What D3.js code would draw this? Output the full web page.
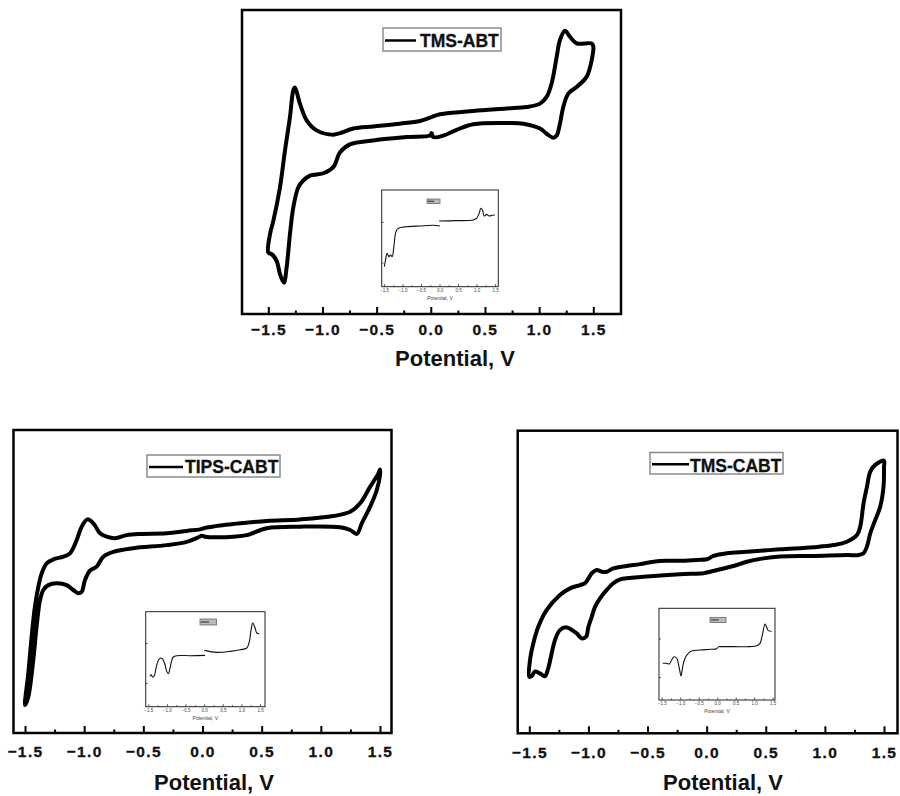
<!DOCTYPE html>
<html>
<head>
<meta charset="utf-8">
<script src="https://cdn.jsdelivr.net/npm/d3@7"></script>
<style>
  body { margin: 0; background: #fff; }
  svg { display: block; }
  text { font-family: "Liberation Sans", Arial, sans-serif; }
</style>
</head>
<body>
<div id="chart"></div>
<script>
//tick values shared by all panels
const potentialTicks = [-1.5, -1.0, -0.5, 0.0, 0.5, 1.0, 1.5];
const potentialMinor = [-1.25, -0.75, -0.25, 0.25, 0.75, 1.25];
const seriesNames = ["TMS-ABT", "TIPS-CABT", "TMS-CABT"];
const axisTitle = "Potential, V";

//CV loops: [potential V, current (relative, 0 = frame bottom, 100 = frame top)]
const tmsAbtCV = [
  [-1.50, 20.2], [-1.484, 26.3], [-1.453, 30.7], [-1.392, 41.7], [-1.346, 53.8], [-1.300, 64.8],
  [-1.269, 73.6], [-1.254, 74.5], [-1.208, 69.2], [-1.146, 63.7], [-1.054, 60.4], [-0.900, 59.0],
  [-0.838, 59.5], [-0.715, 61.0], [-0.531, 61.7], [-0.285, 62.6], [-0.100, 63.5], [-0.008, 64.6],
  [0.085, 65.7], [0.392, 66.8], [0.700, 67.6], [0.885, 68.1], [1.008, 69.2], [1.069, 71.4],
  [1.115, 75.8], [1.162, 84.6], [1.192, 90.1], [1.238, 93.2], [1.285, 91.2], [1.346, 89.0],
  [1.485, 89.0], [1.50, 88.0], [1.485, 83.5], [1.438, 78.0], [1.346, 74.7], [1.269, 72.5],
  [1.223, 68.1], [1.192, 62.6], [1.162, 58.7], [1.131, 58.0], [1.069, 59.3], [1.008, 61.0],
  [0.854, 62.6], [0.700, 62.8], [0.392, 62.4], [0.239, 60.6], [0.116, 58.7], [0.023, 58.2],
  [0.008, 59.5], [-0.008, 58.7], [-0.223, 58.2], [-0.531, 57.1], [-0.746, 55.8], [-0.838, 53.2],
  [-0.900, 48.3], [-0.992, 46.3], [-1.115, 45.5], [-1.177, 43.9], [-1.223, 41.7], [-1.269, 35.1],
  [-1.300, 26.3], [-1.331, 15.3], [-1.356, 10.3], [-1.392, 13.1], [-1.423, 17.5], [-1.469, 19.7]
];
const tipsCabtCV = [
  [-1.50, 9.2], [-1.472, 19.7], [-1.444, 31.8], [-1.416, 41.7], [-1.387, 48.3], [-1.359, 52.7],
  [-1.317, 56.0], [-1.261, 57.3], [-1.176, 58.2], [-1.120, 59.3], [-1.063, 63.7], [-1.021, 68.1],
  [-0.973, 70.5], [-0.922, 69.2], [-0.866, 65.9], [-0.810, 64.8], [-0.739, 64.3], [-0.641, 65.3],
  [-0.528, 65.7], [-0.302, 65.9], [-0.133, 66.7], [-0.020, 67.2], [0.036, 67.8], [0.149, 68.5],
  [0.262, 69.0], [0.543, 70.0], [0.825, 70.5], [1.107, 71.6], [1.248, 73.0], [1.332, 75.8],
  [1.417, 81.3], [1.487, 85.7], [1.50, 87.0], [1.50, 85.1], [1.473, 80.2], [1.417, 74.7],
  [1.346, 69.2], [1.304, 65.7], [1.248, 67.0], [1.163, 67.9], [0.825, 68.1], [0.543, 67.6],
  [0.374, 65.3], [0.262, 64.8], [0.121, 64.6], [0.022, 64.8], [-0.006, 65.1], [-0.034, 64.6],
  [-0.133, 63.1], [-0.302, 62.0], [-0.584, 61.0], [-0.753, 59.8], [-0.838, 58.2], [-0.895, 54.9],
  [-0.951, 53.6], [-0.993, 50.5], [-1.021, 46.6], [-1.049, 46.1], [-1.092, 47.2], [-1.148, 48.8],
  [-1.232, 49.4], [-1.303, 48.8], [-1.345, 47.2], [-1.373, 43.9], [-1.402, 35.1], [-1.430, 24.1],
  [-1.472, 12.0]
];
const tmsCabtCV = [
  [-1.50, 18.7], [-1.494, 24.2], [-1.466, 29.7], [-1.424, 35.2], [-1.354, 40.7], [-1.241, 45.7],
  [-1.156, 47.9], [-1.071, 49.0], [-1.029, 49.6], [-1.000, 51.2], [-0.972, 52.9], [-0.930, 54.0],
  [-0.887, 53.4], [-0.845, 53.4], [-0.789, 54.5], [-0.676, 55.3], [-0.563, 55.9], [-0.450, 56.7],
  [-0.337, 57.0], [-0.224, 57.0], [-0.083, 57.3], [0.002, 57.5], [0.058, 58.6], [0.171, 59.5],
  [0.340, 60.0], [0.622, 60.8], [0.904, 61.5], [1.074, 62.2], [1.186, 63.3], [1.271, 65.5],
  [1.299, 68.3], [1.327, 76.0], [1.356, 81.5], [1.384, 86.5], [1.426, 88.7], [1.50, 90.1],
  [1.50, 88.1], [1.496, 81.5], [1.468, 74.9], [1.426, 70.5], [1.384, 66.1], [1.356, 61.7],
  [1.327, 59.5], [1.285, 58.9], [1.186, 58.9], [0.904, 58.6], [0.622, 58.4], [0.481, 57.8],
  [0.340, 56.7], [0.227, 55.3], [0.115, 54.2], [0.030, 53.4], [-0.026, 52.9], [-0.224, 52.6],
  [-0.506, 51.8], [-0.732, 50.9], [-0.789, 49.6], [-0.845, 47.4], [-0.902, 44.6], [-0.944, 41.8],
  [-0.972, 38.5], [-1.000, 35.2], [-1.020, 31.9], [-1.057, 31.4], [-1.099, 33.0], [-1.184, 35.0],
  [-1.241, 34.1], [-1.283, 30.8], [-1.311, 26.4], [-1.340, 21.5], [-1.368, 18.9], [-1.410, 19.8],
  [-1.452, 20.4], [-1.480, 18.9]
];

//inset traces (two sweeps each): [potential V, relative current]
const tmsAbtInsetNeg = [
  [-1.49, 20.7], [-1.459, 27.6], [-1.414, 34.5], [-1.369, 31.0], [-1.324, 32.8], [-1.279, 31.0],
  [-1.234, 41.4], [-1.189, 55.2], [-1.144, 59.4], [-1.072, 61.0], [-0.892, 62.0], [-0.532, 62.8],
  [-0.171, 63.5], [0.009, 62.8]
];
const tmsAbtInsetPos = [
  [-0.009, 67.9], [0.459, 68.3], [0.91, 69.0], [1.0, 70.7], [1.072, 75.9], [1.117, 81.1],
  [1.162, 79.3], [1.207, 73.1], [1.27, 74.8], [1.342, 73.1], [1.45, 74.1], [1.495, 73.8]
];
const tipsCabtInsetNeg = [
  [-1.454, 31.9], [-1.427, 33.7], [-1.382, 31.3], [-1.338, 32.6], [-1.293, 40.7], [-1.231, 48.7],
  [-1.167, 51.3], [-1.113, 50.2], [-1.051, 44.2], [-1.005, 37.2], [-0.962, 34.7], [-0.917, 40.7],
  [-0.871, 48.7], [-0.828, 52.3], [-0.737, 53.7], [-0.379, 53.7], [0.024, 54.0]
];
const tipsCabtInsetPos = [
  [0.005, 59.3], [0.339, 57.2], [0.696, 58.2], [0.965, 60.0], [1.145, 61.8], [1.215, 68.7],
  [1.261, 81.1], [1.306, 88.1], [1.368, 82.8], [1.414, 77.6], [1.484, 76.8]
];
const tmsCabtInsetNeg = [
  [-1.473, 40.0], [-1.365, 40.0], [-1.294, 39.3], [-1.230, 43.6], [-1.168, 47.2], [-1.095, 45.5],
  [-1.024, 34.6], [-0.978, 26.2], [-0.932, 36.3], [-0.870, 45.5], [-0.781, 50.9], [-0.689, 53.4],
  [-0.465, 54.5], [-0.195, 55.3], [-0.014, 56.0], [0.014, 57.5]
];
const tmsCabtInsetPos = [
  [0.030, 58.2], [0.435, 58.2], [0.886, 58.2], [1.068, 59.2], [1.157, 61.8], [1.220, 70.9],
  [1.292, 82.9], [1.338, 79.3], [1.382, 75.6], [1.473, 74.9]
];
const insetYTicks = [25, 67];

//panel layout (pixel positions in the 900x796 page)
const panels = [
  {
    name: seriesNames[0], cv: tmsAbtCV, inset: [tmsAbtInsetNeg, tmsAbtInsetPos],
    frame: [242, 10, 621, 314], xr: [268.3, 593.3],
    tickBase: 335, titleX: 455, titleBase: 366,
    legend: { box: [383, 28, 501, 51], lineEnd: 416, textX: 420, textBase: 47 },
    insetFrame: [381.7, 190, 498.3, 286.7], insetXr: [384, 495],
    insetLegend: [427, 199, 440, 203.5]
  },
  {
    name: seriesNames[1], cv: tipsCabtCV, inset: [tipsCabtInsetNeg, tipsCabtInsetPos],
    frame: [13.5, 430, 391.5, 733], xr: [25, 380],
    tickBase: 757, titleX: 214, titleBase: 790,
    legend: { box: [147, 455, 280, 477], lineEnd: 183, textX: 185, textBase: 473 },
    insetFrame: [145.7, 611.7, 265, 706.7], insetXr: [148.3, 260],
    insetLegend: [200, 619, 216.5, 625]
  },
  {
    name: seriesNames[2], cv: tmsCabtCV, inset: [tmsCabtInsetNeg, tmsCabtInsetPos],
    frame: [517.7, 430.7, 897.5, 733.3], xr: [529.3, 884],
    tickBase: 758, titleX: 723, titleBase: 790,
    legend: { box: [650, 452.5, 783, 474], lineEnd: 689, textX: 690, textBase: 471.5 },
    insetFrame: [659, 608.3, 775, 700], insetXr: [661.7, 772.7],
    insetLegend: [710, 617.3, 726, 622.5]
  }
];

const svg = d3.select("#chart")
  .append("svg")
  .attr("width", 900)
  .attr("height", 796);

panels.forEach(p => {
  const [fx0, fy0, fx1, fy1] = p.frame;
  const g = svg.append("g");

  //scales
  const x = d3.scaleLinear().domain([-1.5, 1.5]).range(p.xr);
  const y = d3.scaleLinear().domain([0, 100]).range([fy1, fy0]);

  //minor ticks (inward)
  const minorAxis = g.append("g")
    .attr("transform", `translate(0,${fy1})`)
    .call(d3.axisBottom(x).tickValues(potentialMinor).tickSize(-3.5).tickFormat(""));
  minorAxis.select(".domain").remove();
  minorAxis.selectAll("line").attr("stroke", "#000").attr("stroke-width", 2);

  //major ticks + labels
  const majorAxis = g.append("g")
    .attr("transform", `translate(0,${fy1})`)
    .call(d3.axisBottom(x).tickValues(potentialTicks).tickSize(-7).tickFormat(d3.format(".1f")));
  majorAxis.select(".domain").remove();
  majorAxis.selectAll("line").attr("stroke", "#000").attr("stroke-width", 2);
  majorAxis.selectAll("text")
    .attr("y", p.tickBase - fy1)
    .attr("dy", 0)
    .attr("fill", "#111")
    .attr("stroke", "#111")
    .attr("stroke-width", 0.3)
    .style("font-family", "'Liberation Sans', Arial, sans-serif")
    .style("font-size", "15.5px")
    .style("font-weight", "bold")
    .style("letter-spacing", "1.4px");

  //axis title
  g.append("text")
    .attr("x", p.titleX)
    .attr("y", p.titleBase)
    .attr("text-anchor", "middle")
    .attr("fill", "#111")
    .style("font-size", "22px")
    .style("font-weight", "bold")
    .text(axisTitle);

  //CV loop
  const line = d3.line()
    .x(d => x(d[0]))
    .y(d => y(d[1]))
    .curve(d3.curveCatmullRomClosed.alpha(0.5));

  g.append("path")
    .datum(p.cv)
    .attr("d", line)
    .attr("fill", "none")
    .attr("stroke", "#000")
    .attr("stroke-width", 4)
    .attr("stroke-linejoin", "round");

  //frame
  g.append("rect")
    .attr("x", fx0).attr("y", fy0)
    .attr("width", fx1 - fx0).attr("height", fy1 - fy0)
    .attr("fill", "none")
    .attr("stroke", "#000")
    .attr("stroke-width", 2.5);

  //legend
  const L = p.legend;
  g.append("rect")
    .attr("x", L.box[0]).attr("y", L.box[1])
    .attr("width", L.box[2] - L.box[0]).attr("height", L.box[3] - L.box[1])
    .attr("fill", "#fff")
    .attr("stroke", "#8a8a8a")
    .attr("stroke-width", 1.5);
  g.append("line")
    .attr("x1", L.box[0] + 2).attr("x2", L.lineEnd)
    .attr("y1", (L.box[1] + L.box[3]) / 2 + 1).attr("y2", (L.box[1] + L.box[3]) / 2 + 1)
    .attr("stroke", "#000")
    .attr("stroke-width", 2.5);
  g.append("text")
    .attr("x", L.textX)
    .attr("y", L.textBase)
    .attr("fill", "#111")
    .attr("stroke", "#111")
    .attr("stroke-width", 0.3)
    .style("font-size", "17.5px")
    .style("font-weight", "bold")
    .text(p.name);

  //inset
  const [ix0, iy0, ix1, iy1] = p.insetFrame;
  const ig = g.append("g");
  const xi = d3.scaleLinear().domain([-1.5, 1.5]).range(p.insetXr);
  const yi = d3.scaleLinear().domain([0, 100]).range([iy1, iy0]);

  ig.append("rect")
    .attr("x", ix0).attr("y", iy0)
    .attr("width", ix1 - ix0).attr("height", iy1 - iy0)
    .attr("fill", "#fff")
    .attr("stroke", "#222")
    .attr("stroke-width", 1);

  const insetMinor = ig.append("g")
    .attr("transform", `translate(0,${iy1})`)
    .call(d3.axisBottom(xi).tickValues(potentialMinor).tickSize(-1.5).tickFormat(""));
  insetMinor.select(".domain").remove();
  insetMinor.selectAll("line").attr("stroke", "#333").attr("stroke-width", 0.8);

  const insetMajor = ig.append("g")
    .attr("transform", `translate(0,${iy1})`)
    .call(d3.axisBottom(xi).tickValues(potentialTicks).tickSize(-2.5).tickPadding(2).tickFormat(d3.format(".1f")));
  insetMajor.select(".domain").remove();
  insetMajor.selectAll("line").attr("stroke", "#333").attr("stroke-width", 0.8);
  insetMajor.selectAll("text")
    .attr("fill", "#444")
    .style("font-family", "'Liberation Sans', Arial, sans-serif")
    .style("font-size", "4.5px");

  const insetLeft = ig.append("g")
    .attr("transform", `translate(${ix0},0)`)
    .call(d3.axisLeft(yi).tickValues(insetYTicks).tickSize(-2).tickFormat(""));
  insetLeft.select(".domain").remove();
  insetLeft.selectAll("line").attr("stroke", "#333").attr("stroke-width", 0.8);

  ig.append("text")
    .attr("x", (ix0 + ix1) / 2)
    .attr("y", iy1 + 13)
    .attr("text-anchor", "middle")
    .attr("fill", "#444")
    .style("font-size", "5px")
    .text(axisTitle);

  const iline = d3.line()
    .x(d => xi(d[0]))
    .y(d => yi(d[1]))
    .curve(d3.curveCatmullRom.alpha(0.5));

  p.inset.forEach(seg => {
    ig.append("path")
      .datum(seg)
      .attr("d", iline)
      .attr("fill", "none")
      .attr("stroke", "#111")
      .attr("stroke-width", 1.1);
  });

  //inset legend (tiny)
  const IL = p.insetLegend;
  ig.append("rect")
    .attr("x", IL[0]).attr("y", IL[1])
    .attr("width", IL[2] - IL[0]).attr("height", IL[3] - IL[1])
    .attr("fill", "#bbb")
    .attr("stroke", "#555")
    .attr("stroke-width", 0.7);
  ig.append("line")
    .attr("x1", IL[0] + 1).attr("x2", IL[0] + (IL[2] - IL[0]) * 0.55)
    .attr("y1", (IL[1] + IL[3]) / 2).attr("y2", (IL[1] + IL[3]) / 2)
    .attr("stroke", "#222")
    .attr("stroke-width", 1);
});
</script>
</body>
</html>
